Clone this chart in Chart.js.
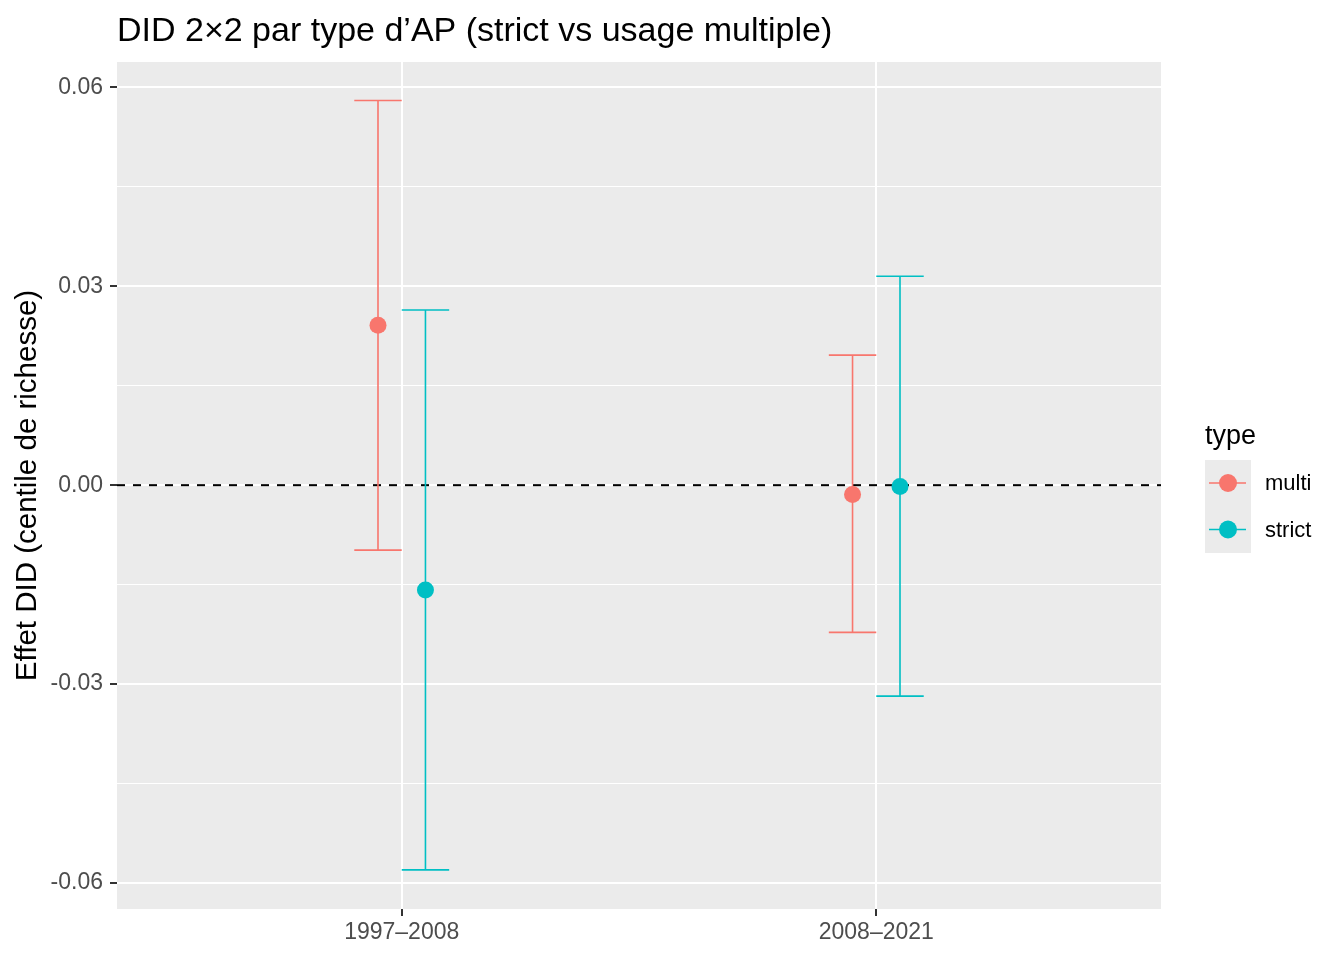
<!DOCTYPE html>
<html>
<head>
<meta charset="utf-8">
<script src="https://cdn.jsdelivr.net/npm/chart.js@4"></script>
<style>
  html, body { margin: 0; padding: 0; background: #fff; }
  #wrap { width: 1344px; height: 960px; }
</style>
</head>
<body>
<div id="wrap"><canvas id="c" width="1344" height="960"></canvas></div>
<script>
// data
const periods = ['1997–2008', '2008–2021']
const types = ['multi', 'strict']
const colors = ['#F8766D', '#00BFC4']
const multiEst = [0.0241, -0.0014]
const multiLo = [-0.0098, -0.0222]
const multiHi = [0.0580, 0.0196]
const strictEst = [-0.0158, -0.0002]
const strictLo = [-0.0580, -0.0318]
const strictHi = [0.0264, 0.0315]
const yMajor = [-0.06, -0.03, 0, 0.03, 0.06]
const yMinor = [-0.045, -0.015, 0.015, 0.045]

const FONT = '"Liberation Sans", Arial, sans-serif'
const dodge = 0.05
const capHalf = 0.05

function pts(est, lo, hi, off) {
	return est.map((v, i) => ({x: i + 1 + off, y: v, lo: lo[i], hi: hi[i]}))
}

const ggPlot = {
	id: 'ggPlot',
	beforeDraw(chart) {
		const {ctx, chartArea: a} = chart
		ctx.save()
		ctx.fillStyle = '#EBEBEB'
		ctx.fillRect(a.left, a.top, a.right - a.left, a.bottom - a.top)
		ctx.restore()
	},
	beforeDatasetsDraw(chart) {
		const {ctx, chartArea: a} = chart
		const xs = chart.scales.x, ys = chart.scales.y
		ctx.save()
		// zero line
		const y0 = ys.getPixelForValue(0)
		ctx.strokeStyle = '#000'
		ctx.lineWidth = 2
		ctx.setLineDash([8, 8])
		ctx.beginPath()
		ctx.moveTo(a.left, y0)
		ctx.lineTo(a.right, y0)
		ctx.stroke()
		ctx.setLineDash([])
		// error bars
		chart.data.datasets.forEach(ds => {
			ctx.strokeStyle = ds.borderColor
			ctx.lineWidth = 1.6
			ds.data.forEach(p => {
				const x = xs.getPixelForValue(p.x)
				const xl = xs.getPixelForValue(p.x - capHalf)
				const xr = xs.getPixelForValue(p.x + capHalf)
				const yl = ys.getPixelForValue(p.lo)
				const yh = ys.getPixelForValue(p.hi)
				ctx.beginPath()
				ctx.moveTo(x, yl); ctx.lineTo(x, yh)
				ctx.moveTo(xl, yl); ctx.lineTo(xr, yl)
				ctx.moveTo(xl, yh); ctx.lineTo(xr, yh)
				ctx.stroke()
			})
		})
		ctx.restore()
	},
	afterDraw(chart) {
		const {ctx, chartArea: a} = chart
		ctx.save()
		ctx.fillStyle = '#000'
		// title
		ctx.font = '34px ' + FONT
		ctx.textAlign = 'left'
		ctx.textBaseline = 'alphabetic'
		ctx.fillText('DID 2×2 par type d’AP (strict vs usage multiple)', a.left, 41)
		// y axis title
		ctx.save()
		ctx.translate(28, (a.top + a.bottom) / 2)
		ctx.rotate(-Math.PI / 2)
		ctx.font = '29.5px ' + FONT
		ctx.textAlign = 'center'
		ctx.textBaseline = 'middle'
		ctx.fillText('Effet DID (centile de richesse)', 0, 0)
		ctx.restore()
		// legend
		ctx.font = '27px ' + FONT
		ctx.textBaseline = 'alphabetic'
		ctx.fillText('type', 1205, 444)
		ctx.fillStyle = '#EBEBEB'
		ctx.fillRect(1205, 460, 46, 93)
		chart.data.datasets.forEach((ds, i) => {
			const cy = 483 + i * 46.5
			ctx.strokeStyle = ds.borderColor
			ctx.lineWidth = 1.6
			ctx.beginPath()
			ctx.moveTo(1209, cy); ctx.lineTo(1246, cy)
			ctx.stroke()
			ctx.fillStyle = ds.backgroundColor
			ctx.beginPath()
			ctx.arc(1228, cy, 9, 0, Math.PI * 2)
			ctx.fill()
			ctx.fillStyle = '#000'
			ctx.font = '22px ' + FONT
			ctx.textBaseline = 'middle'
			ctx.fillText(ds.label, 1265, cy + 1)
		})
		ctx.restore()
	}
}

new Chart(document.getElementById('c'), {
	type: 'scatter',
	data: {
		datasets: [
			{label: types[0], data: pts(multiEst, multiLo, multiHi, -dodge), backgroundColor: colors[0], borderColor: colors[0], pointRadius: 8.5, pointBorderWidth: 0},
			{label: types[1], data: pts(strictEst, strictLo, strictHi, dodge), backgroundColor: colors[1], borderColor: colors[1], pointRadius: 8.5, pointBorderWidth: 0}
		]
	},
	options: {
		responsive: false,
		animation: false,
		devicePixelRatio: 1,
		layout: {padding: {left: 0, top: 62, right: 183, bottom: 0}},
		plugins: {legend: {display: false}, tooltip: {enabled: false}},
		scales: {
			x: {
				type: 'linear',
				min: 0.4,
				max: 2.6,
				afterBuildTicks: s => { s.ticks = periods.map((p, i) => ({value: i + 1})) },
				afterFit: s => { s.height = 51 },
				border: {display: false},
				grid: {color: '#FFFFFF', lineWidth: 2, tickColor: '#333333', tickLength: 7, tickWidth: 2},
				ticks: {
					callback: v => periods[Math.round(v) - 1],
					color: '#4D4D4D',
					font: {family: FONT, size: 23},
					padding: 3,
					maxRotation: 0
				}
			},
			y: {
				min: -0.0639,
				max: 0.0638,
				afterBuildTicks: s => { s.ticks = yMajor.concat(yMinor).sort((a, b) => a - b).map(v => ({value: v})) },
				afterFit: s => { s.width = 117 },
				border: {display: false},
				grid: {
					color: '#FFFFFF',
					lineWidth: c => yMajor.some(m => Math.abs(m - c.tick.value) < 1e-9) ? 2 : 1,
					tickColor: c => yMajor.some(m => Math.abs(m - c.tick.value) < 1e-9) ? '#333333' : 'rgba(0,0,0,0)',
					tickLength: 7,
					tickWidth: 2
				},
				ticks: {
					callback: v => yMajor.some(m => Math.abs(m - v) < 1e-9) ? v.toFixed(2) : '',
					color: '#4D4D4D',
					font: {family: FONT, size: 23},
					padding: 7
				}
			}
		}
	},
	plugins: [ggPlot]
})
</script>
</body>
</html>
